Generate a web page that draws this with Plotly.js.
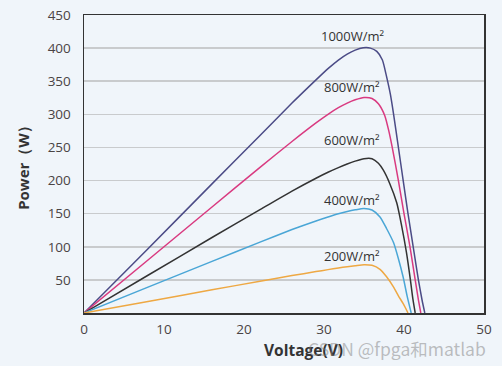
<!DOCTYPE html>
<html><head><meta charset="utf-8">
<script src="https://cdn.plot.ly/plotly-3.0.1.min.js"></script>
<style>html,body{margin:0;padding:0;background:#f0f5fa;}</style>
</head><body><div id="chart" style="width:502px;height:366px;"></div>
<script>
const v1000 = [0,8,16,22,26,29,30.5,31.8,32.9,33.9,34.9,35.8,36.6,37.3,37.8,38.3,38.7,39.3,39.9,40.5,41.15,41.8,42.25,42.6];
const p1000 = [0,97,195,268,317,352,369,382,391,397,400.5,400,395,382,358,330,300,250,200,150,100,50,20,0];
const v800 = [0,8,16,22,26,29,30.5,31.8,32.9,33.9,35,36,36.8,37.6,38.1,38.5,39.3,40,40.75,41.4,41.8,42.1];
const p800 = [0,80,160,220,259,287,300,310,317,322,325.5,324,316,298,275,252,200,150,100,50,20,0];
const v600 = [0,8,16,22,26,29,30.5,31.8,32.9,33.9,35,36,36.8,37.4,38.2,39.1,39.7,40.3,40.8,41.1,41.4];
const p600 = [0,57,114,156,184,203.5,212.5,219.5,225,229.3,233,233,226,216,196,166,132,92,50,22,0];
const v400 = [0,8,16,22,26,29,30.5,31.8,32.9,33.9,35,36,37,37.8,38.7,39.3,39.9,40.4,40.9];
const p400 = [0,39,78,107,126,139,145,149.8,153.3,155.8,157.8,155.5,145,128,106,82,54,25,0];
const v200 = [0,8,16,22,26,29,30.5,31.8,32.9,33.9,35,36,37,37.8,38.7,39.3,39.9,40.5];
const p200 = [0,17.5,35,48,56.5,62.5,65.5,68,70,71.5,73,72,66,55,39,26,14,0];
const seriesNames = ["1000W/m²","800W/m²","600W/m²","400W/m²","200W/m²"];
const labelX = [33.5,33.5,33.5,33.5,33.5];
const labelY = [418,341,261,170,86];
const xTicks = [0,10,20,30,40,50];
const yTicks = [50,100,150,200,250,300,350,400,450];

const colors = ["#4b4b86","#d93a80","#333333","#4aa6d6","#eea843"];
const vs = [v1000,v800,v600,v400,v200];
const ps = [p1000,p800,p600,p400,p200];
const traces = vs.map((v,i)=>({x:v,y:ps[i],mode:'lines',type:'scatter',
  line:{color:colors[i],width:1.5,shape:'spline',smoothing:0.6},name:seriesNames[i],hoverinfo:'none'}));

const annotations = seriesNames.map((n,i)=>({x:labelX[i],y:labelY[i],text:n,showarrow:false,
  xref:'x',yref:'y',font:{family:'Open Sans',size:13,color:'#333'}}));
annotations.push({xref:'paper',yref:'paper',x:0.5475,y:-0.125,xanchor:'center',yanchor:'middle',
  text:'<b>Voltage(V)</b>',showarrow:false,font:{family:'Open Sans',size:15.5,color:'#333'}});
annotations.push({xref:'paper',yref:'paper',x:1.01,y:-0.12,xanchor:'right',yanchor:'middle',
  text:'CSDN @fpga和matlab',showarrow:false,font:{family:'Noto Sans CJK SC',size:17.5,color:'rgba(130,130,130,0.5)'}});

const layout = {
  width:502,height:366,paper_bgcolor:'#f0f5fa',plot_bgcolor:'#f0f5fa',
  margin:{l:84,r:18,t:15,b:53},showlegend:false,
  font:{family:'Open Sans',color:'#444'},
  xaxis:{range:[0,50],tickvals:xTicks,showgrid:false,zeroline:false,showline:true,mirror:true,
    linecolor:'#333',linewidth:1.5,ticks:'outside',ticklen:3,tickcolor:'rgba(0,0,0,0)',
    tickfont:{size:13.5,color:'#4a4444'}},
  yaxis:{range:[0,450],tickvals:yTicks,showgrid:true,gridcolor:'#c9cbcd',gridwidth:1.5,zeroline:false,
    showline:true,mirror:true,linecolor:'#333',linewidth:1.5,ticks:'outside',ticklen:9,tickcolor:'rgba(0,0,0,0)',
    tickfont:{size:13.5,color:'#4a4444'},
    title:{text:'<b>Power（W）</b>',font:{size:15,color:'#333'},standoff:14}},
  annotations:annotations
};
Plotly.newPlot('chart',traces,layout,{staticPlot:true});
</script></body></html>
